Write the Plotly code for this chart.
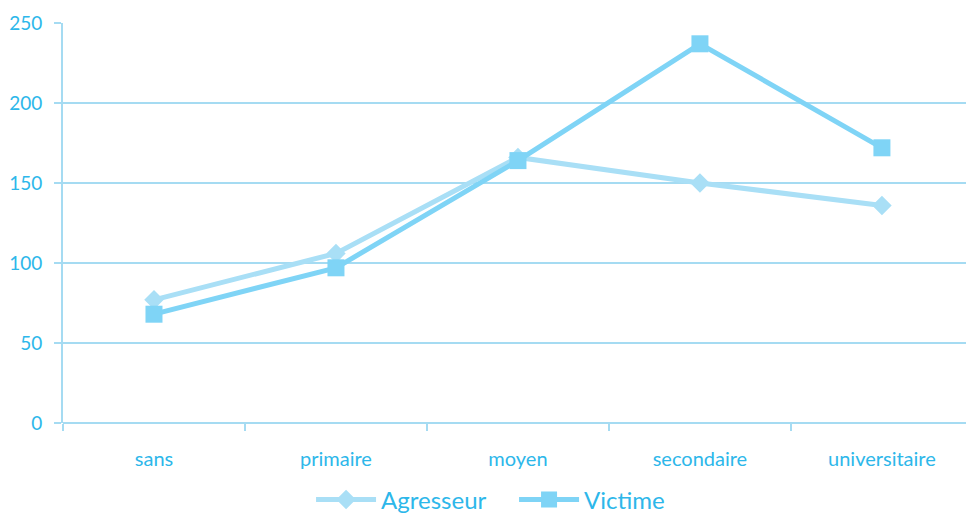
import plotly.graph_objects as go

# Niveau d'instruction
categories = ["sans", "primaire", "moyen", "secondaire", "universitaire"]
agresseur = [77, 106, 166, 150, 136]
victime = [68, 97, 164, 237, 172]
y_ticks = [0, 50, 100, 150, 200, 250]

text_color = "#2DB7EA"
grid_color = "#A5DBF2"

fig = go.Figure()
fig.add_trace(go.Scatter(
    x=categories, y=agresseur, name="Agresseur", mode="lines+markers",
    line=dict(color="#A9DFF6", width=5),
    marker=dict(symbol="diamond", size=15, color="#A9DFF6"),
))
fig.add_trace(go.Scatter(
    x=categories, y=victime, name="Victime", mode="lines+markers",
    line=dict(color="#7FD4F6", width=5),
    marker=dict(symbol="square", size=17, color="#7FD4F6"),
))

fig.update_layout(
    width=966, height=518,
    margin=dict(l=63, r=0, t=23, b=95, autoexpand=False),
    paper_bgcolor="white", plot_bgcolor="white",
    font=dict(family="Lato, Open Sans, sans-serif", color=text_color),
    showlegend=True,
    legend=dict(
        orientation="h", xref="container", x=0.322, xanchor="left",
        yref="container", y=0.035, yanchor="middle",
        font=dict(size=24, color=text_color), itemwidth=60,
        entrywidth=128, entrywidthmode="pixels",
    ),
    xaxis=dict(
        type="category", range=[-0.5, 4.462],
        showgrid=False, showline=False, zeroline=False,
        ticks="outside", tickson="boundaries", ticklen=7, tickcolor=grid_color,
        tickwidth=2, ticklabelstandoff=22,
        tickfont=dict(size=20, color=text_color),
    ),
    yaxis=dict(
        range=[0, 250], tickvals=y_ticks,
        showgrid=True, gridcolor=grid_color, gridwidth=2,
        showline=True, linecolor=grid_color, linewidth=2,
        zeroline=True, zerolinecolor=grid_color, zerolinewidth=2,
        ticks="outside", ticklen=7, tickcolor=grid_color, tickwidth=2,
        ticklabelstandoff=8,
        tickfont=dict(size=19, color=text_color),
    ),
)

fig.write_html("out.html")
